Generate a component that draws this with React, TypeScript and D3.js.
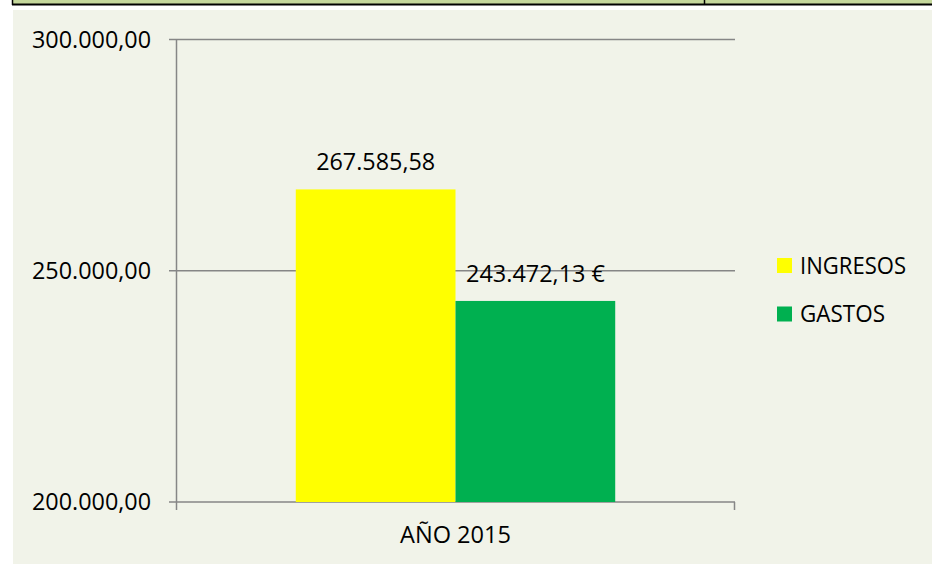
import React from "react";
import * as d3 from "d3";

const categories = ["AÑO 2015"];
const seriesNames = ["INGRESOS", "GASTOS"];
const seriesValues = [267585.58, 243472.13];
const labelSuffix = ["", " €"];
const seriesColors = ["#FFFF00", "#00B050"];
const yTicks = [200000, 250000, 300000];

const W = 932;
const H = 564;
const FONT = "'Open Sans', 'Liberation Sans', sans-serif";

const locale = d3.formatLocale({ decimal: ",", thousands: ".", grouping: [3], currency: ["", " €"] });
const fmt = locale.format(",.2f");

export default function App() {
  const plot = { left: 176, right: 735, top: 39.5, bottom: 502 };
  const y = d3.scaleLinear().domain([200000, 300000]).range([plot.bottom, plot.top]);
  const x0 = d3.scaleBand().domain(categories).range([plot.left, plot.right]).paddingInner(0).paddingOuter(0.375);
  const x1 = d3.scaleBand().domain(seriesNames).range([0, x0.bandwidth()]).padding(0);
  const grid = "#868686";
  const FS = 23;

  return (
    <svg width={W} height={H} style={{ position: "absolute", left: 0, top: 0, display: "block" }} fontFamily={FONT}>
      <rect x={0} y={0} width={W} height={H} fill="#ffffff" />
      {/* top strip remnant */}
      <rect x={12} y={0} width={W - 12} height={4} fill="#c4d79b" />
      <rect x={12} y={3.5} width={W - 12} height={2} fill="#000000" />
      <line x1={12.5} x2={12.5} y1={0} y2={5} stroke="#000" strokeWidth={1.5} />
      <line x1={704.5} x2={704.5} y1={0} y2={5} stroke="#000" strokeWidth={1.5} />
      {/* chart area */}
      <rect x={13} y={10} width={W - 13} height={H - 10} fill="#f1f3e9" />

      {/* gridlines */}
      {yTicks.map((t) => (
        <line key={"g" + t} x1={plot.left - 7} x2={plot.right} y1={y(t)} y2={y(t)} stroke={grid} strokeWidth={1.5} />
      ))}

      {/* bars */}
      {categories.map((c) => (
        <g key={c} transform={`translate(${x0(c)},0)`}>
          {seriesNames.map((s, i) => (
            <rect key={s} x={x1(s)} y={y(seriesValues[i])} width={x1.bandwidth()} height={plot.bottom - y(seriesValues[i])} fill={seriesColors[i]} />
          ))}
        </g>
      ))}

      {/* axes */}
      <line x1={plot.left + 0.5} x2={plot.left + 0.5} y1={plot.top} y2={plot.bottom + 8} stroke={grid} strokeWidth={1.5} />
      <line x1={plot.right - 0.5} x2={plot.right - 0.5} y1={plot.bottom} y2={plot.bottom + 8} stroke={grid} strokeWidth={1.5} />
      {yTicks.map((t) => (
        <text key={"t" + t} x={151} y={y(t) + 8} textAnchor="end" fontSize={FS} fill="#000" textLength={119} lengthAdjust="spacingAndGlyphs">
          {fmt(t)}
        </text>
      ))}
      {categories.map((c) => (
        <text key={"c" + c} x={(x0(c) as number) + x0.bandwidth() / 2} y={543} textAnchor="middle" fontSize={FS} fill="#000" textLength={111} lengthAdjust="spacingAndGlyphs">
          {c}
        </text>
      ))}

      {/* data labels */}
      {categories.map((c) =>
        seriesNames.map((s, i) => {
          const cx = (x0(c) as number) + (x1(s) as number) + x1.bandwidth() / 2;
          const txt = fmt(seriesValues[i]) + labelSuffix[i];
          return (
            <text key={"l" + s} x={i === 1 ? 466 : cx} y={y(seriesValues[i]) - 19} textAnchor={i === 1 ? "start" : "middle"} fontSize={FS} fill="#000" textLength={i === 1 ? 139 : 119} lengthAdjust="spacingAndGlyphs">
              {txt}
            </text>
          );
        })
      )}

      {/* legend */}
      {seriesNames.map((s, i) => (
        <g key={"lg" + s} transform={`translate(777, ${258 + i * 48.5})`}>
          <rect x={0} y={0} width={15} height={15} fill={seriesColors[i]} />
          <text x={23} y={15.5} fontSize={FS} fill="#000" textLength={i === 0 ? 106 : 85} lengthAdjust="spacingAndGlyphs">
            {s}
          </text>
        </g>
      ))}
    </svg>
  );
}
